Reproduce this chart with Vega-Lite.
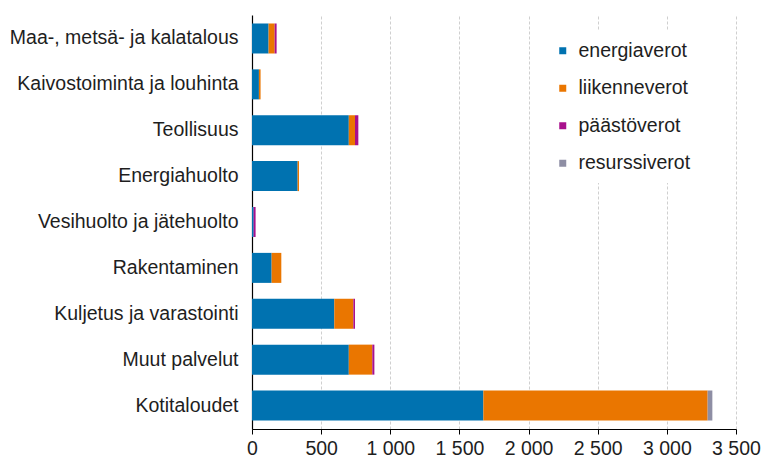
{
  "$schema": "https://vega.github.io/schema/vega-lite/v6.json",
  "width": 484,
  "height": 414,
  "autosize": {"type": "none"},
  "padding": {"left": 252, "top": 15, "right": 26, "bottom": 31},
  "background": "white",
  "data": {
    "values": [
      {"toimiala": "Maa-, metsä- ja kalatalous", "vero": "energiaverot", "arvo": 120},
      {"toimiala": "Maa-, metsä- ja kalatalous", "vero": "liikenneverot", "arvo": 44},
      {"toimiala": "Maa-, metsä- ja kalatalous", "vero": "päästöverot", "arvo": 14},
      {"toimiala": "Kaivostoiminta ja louhinta", "vero": "energiaverot", "arvo": 50},
      {"toimiala": "Kaivostoiminta ja louhinta", "vero": "liikenneverot", "arvo": 12},
      {"toimiala": "Teollisuus", "vero": "energiaverot", "arvo": 700},
      {"toimiala": "Teollisuus", "vero": "liikenneverot", "arvo": 45},
      {"toimiala": "Teollisuus", "vero": "päästöverot", "arvo": 24},
      {"toimiala": "Energiahuolto", "vero": "energiaverot", "arvo": 330},
      {"toimiala": "Energiahuolto", "vero": "liikenneverot", "arvo": 10},
      {"toimiala": "Vesihuolto ja jätehuolto", "vero": "energiaverot", "arvo": 12},
      {"toimiala": "Vesihuolto ja jätehuolto", "vero": "päästöverot", "arvo": 14},
      {"toimiala": "Rakentaminen", "vero": "energiaverot", "arvo": 142},
      {"toimiala": "Rakentaminen", "vero": "liikenneverot", "arvo": 70},
      {"toimiala": "Kuljetus ja varastointi", "vero": "energiaverot", "arvo": 595},
      {"toimiala": "Kuljetus ja varastointi", "vero": "liikenneverot", "arvo": 138},
      {"toimiala": "Kuljetus ja varastointi", "vero": "päästöverot", "arvo": 12},
      {"toimiala": "Muut palvelut", "vero": "energiaverot", "arvo": 700},
      {"toimiala": "Muut palvelut", "vero": "liikenneverot", "arvo": 170},
      {"toimiala": "Muut palvelut", "vero": "päästöverot", "arvo": 15},
      {"toimiala": "Kotitaloudet", "vero": "energiaverot", "arvo": 1673},
      {"toimiala": "Kotitaloudet", "vero": "liikenneverot", "arvo": 1622},
      {"toimiala": "Kotitaloudet", "vero": "resurssiverot", "arvo": 34}
    ]
  },
  "mark": {"type": "bar"},
  "encoding": {
    "y": {
      "field": "toimiala",
      "type": "nominal",
      "sort": ["Maa-, metsä- ja kalatalous", "Kaivostoiminta ja louhinta", "Teollisuus", "Energiahuolto", "Vesihuolto ja jätehuolto", "Rakentaminen", "Kuljetus ja varastointi", "Muut palvelut", "Kotitaloudet"],
      "scale": {"paddingInner": 0.346, "paddingOuter": 0.185},
      "axis": {
        "title": null,
        "ticks": false,
        "labelPadding": 14,
        "domainColor": "#000000",
        "domainWidth": 1.2,
        "labelLimit": 300
      }
    },
    "x": {
      "field": "arvo",
      "type": "quantitative",
      "stack": "zero",
      "scale": {"domain": [0, 3500], "nice": false},
      "axis": {
        "title": null,
        "values": [0, 500, 1000, 1500, 2000, 2500, 3000, 3500],
        "labelExpr": "replace(format(datum.value, ','), ',', ' ')",
        "tickSize": 5,
        "tickColor": "#000000",
        "domainColor": "#000000",
        "domainWidth": 1.2,
        "labelPadding": 5,
        "grid": true,
        "gridColor": "#cfcfcf",
        "gridDash": [3, 2],
        "gridWidth": 1,
        "labelFlush": false
      }
    },
    "color": {
      "field": "vero",
      "type": "nominal",
      "scale": {
        "domain": ["energiaverot", "liikenneverot", "päästöverot", "resurssiverot"],
        "range": ["#0072B0", "#EA7600", "#A8108C", "#8E8EA4"]
      },
      "legend": {
        "title": null,
        "orient": "none",
        "legendX": 291,
        "legendY": 16,
        "padding": 10,
        "fillColor": "white",
        "symbolType": "square",
        "symbolSize": 49,
        "symbolStrokeWidth": 0,
        "labelOffset": 6,
        "rowPadding": 16.5,
        "labelFontSize": 19.5
      }
    }
  },
  "config": {
    "font": "Liberation Sans",
    "view": {"stroke": null},
    "axis": {"labelFontSize": 19.5, "labelColor": "#1e1e1e"},
    "legend": {"labelColor": "#1e1e1e", "labelFont": "Liberation Sans"}
  }
}
